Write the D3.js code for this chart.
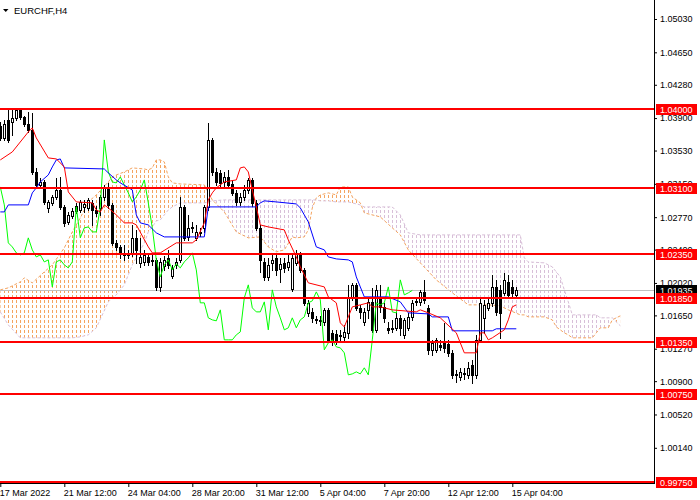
<!DOCTYPE html>
<html>
<head>
<meta charset="utf-8">
<script src="https://cdn.jsdelivr.net/npm/d3@7"></script>
<style>
  body { margin: 0; background: #fff; }
  svg { display: block; font-family: "Liberation Sans", Arial, sans-serif; }
</style>
</head>
<body>
<div id="chart"></div>
<script>
// EURCHF H4 candles, one entry per bar (bar 0 = 17 Mar 2022)
const opens = [1.03811,1.03674,1.03879,1.03856,1.03902,1.03993,1.03913,1.03833,1.03765,1.03286,
  1.03138,1.03172,1.02876,1.02933,1.03001,1.03081,1.02887,1.02716,1.02785,1.02842,
  1.02853,1.02887,1.02876,1.02933,1.02853,1.02876,1.03001,1.03115,1.02910,1.02477,
  1.02431,1.02363,1.02340,1.02351,1.02534,1.02249,1.02260,1.02317,1.02272,1.02283,
  1.01975,1.02215,1.02306,1.02101,1.02226,1.02283,1.02887,1.02545,1.02648,1.02534,
  1.02591,1.02648,1.02887,1.03651,1.03286,1.03275,1.03172,1.03229,1.03149,1.03047,
  1.02944,1.03001,1.03081,1.03195,1.02933,1.02648,1.02260,1.02089,1.02249,1.02306,
  1.02181,1.02249,1.02203,1.01953,1.02249,1.02340,1.02169,1.01679,1.01690,1.01611,
  1.01599,1.01576,1.01713,1.01451,1.01439,1.01417,1.01405,1.01451,1.01850,1.01998,
  1.01736,1.01576,1.01713,1.01804,1.01485,1.01861,1.01747,1.01508,1.01497,1.01508,
  1.01622,1.01428,1.01508,1.01633,1.01804,1.01804,1.01918,1.01736,1.01257,1.01257,
  1.01314,1.01337,1.01325,1.01223,1.00972,1.00949,1.00995,1.00972,1.01086,1.00972,
  1.01371,1.01622,1.01736,1.01793,1.01975,1.01941,1.01907,1.02032,1.01975,1.01884];
const highs = [1.03856,1.03879,1.03993,1.03993,1.04016,1.04016,1.03925,1.03970,1.03959,1.03332,
  1.03218,1.03195,1.02967,1.03024,1.03218,1.03229,1.02910,1.02830,1.02876,1.02933,
  1.02967,1.02967,1.02990,1.02967,1.02899,1.03024,1.03138,1.03161,1.02933,1.02511,
  1.02454,1.02454,1.02397,1.02682,1.02625,1.02534,1.02397,1.02363,1.02340,1.02306,
  1.02306,1.02329,1.02397,1.02226,1.02306,1.03001,1.02910,1.02796,1.02716,1.02682,
  1.02648,1.02910,1.03845,1.03674,1.03332,1.03309,1.03286,1.03309,1.03195,1.03081,
  1.03047,1.03138,1.03218,1.03218,1.02967,1.02682,1.02306,1.02306,1.02340,1.02363,
  1.02306,1.02306,1.02340,1.02340,1.02397,1.02374,1.02192,1.01827,1.01736,1.01645,
  1.01645,1.01736,1.01736,1.01485,1.01485,1.01485,1.01542,1.01998,1.02021,1.02021,
  1.01770,1.01736,1.01850,1.01964,1.01998,1.01998,1.01793,1.01576,1.01599,1.01690,
  1.01656,1.01622,1.01679,1.01827,1.01850,1.01941,1.02055,1.01770,1.01371,1.01394,
  1.01371,1.01565,1.01371,1.01257,1.01029,1.01052,1.01052,1.01120,1.01143,1.01428,
  1.01850,1.01827,1.01850,1.02112,1.02055,1.01998,1.02135,1.02112,1.02055,1.01975];
const lows = [1.03651,1.03651,1.03628,1.03708,1.03879,1.03890,1.03811,1.03742,1.03263,1.03104,
  1.03104,1.02921,1.02830,1.02910,1.02979,1.02865,1.02671,1.02693,1.02762,1.02819,
  1.02830,1.02830,1.02853,1.02682,1.02785,1.02796,1.02967,1.02876,1.02454,1.02397,
  1.02306,1.02283,1.02306,1.02329,1.02249,1.02203,1.02226,1.02226,1.02226,1.01941,
  1.01930,1.02169,1.02192,1.02078,1.02192,1.02260,1.02511,1.02511,1.02602,1.02511,
  1.02557,1.02602,1.02853,1.03252,1.03138,1.03127,1.03127,1.03104,1.03024,1.02910,
  1.02910,1.02967,1.03047,1.02899,1.02625,1.02146,1.02055,1.02055,1.02169,1.02112,
  1.02032,1.02146,1.02169,1.01930,1.02226,1.02146,1.01770,1.01645,1.01576,1.01565,
  1.01542,1.01542,1.01348,1.01314,1.01325,1.01371,1.01371,1.01394,1.01827,1.01713,
  1.01622,1.01542,1.01622,1.01462,1.01462,1.01690,1.01576,1.01451,1.01462,1.01485,
  1.01428,1.01394,1.01485,1.01599,1.01770,1.01770,1.01793,1.01211,1.01200,1.01234,
  1.01257,1.01234,1.01189,1.00938,1.00892,1.00915,1.00927,1.00938,1.00881,1.00938,
  1.01348,1.01451,1.01713,1.01759,1.01656,1.01394,1.01884,1.01850,1.01861,1.01861];
const closes = [1.03674,1.03833,1.03651,1.03902,1.03993,1.03913,1.03833,1.03765,1.03286,1.03138,
  1.03172,1.02944,1.02944,1.03001,1.03081,1.02887,1.02705,1.02796,1.02842,1.02899,
  1.02944,1.02921,1.02967,1.02853,1.02819,1.03001,1.03115,1.02910,1.02477,1.02431,
  1.02363,1.02340,1.02363,1.02534,1.02397,1.02317,1.02340,1.02260,1.02283,1.01975,
  1.02260,1.02283,1.02226,1.02192,1.02260,1.02887,1.02534,1.02648,1.02659,1.02602,
  1.02602,1.02887,1.03651,1.03286,1.03172,1.03161,1.03229,1.03138,1.03047,1.02944,
  1.03001,1.03081,1.03195,1.02933,1.02648,1.02283,1.02089,1.02226,1.02283,1.02169,
  1.02237,1.02192,1.02260,1.02306,1.02363,1.02169,1.01793,1.01793,1.01622,1.01599,
  1.01588,1.01713,1.01371,1.01371,1.01371,1.01428,1.01462,1.01850,1.01998,1.01736,
  1.01690,1.01690,1.01804,1.01485,1.01941,1.01747,1.01622,1.01485,1.01508,1.01622,
  1.01508,1.01599,1.01633,1.01793,1.01816,1.01918,1.01827,1.01257,1.01337,1.01371,
  1.01291,1.01280,1.01223,1.00972,1.00983,1.01006,1.00983,1.01052,1.00972,1.01371,
  1.01793,1.01770,1.01793,1.01975,1.01690,1.01679,1.02055,1.01884,1.01907,1.01935];

// Ichimoku lines as [bar, price] vertices
const tenkan = [[0,1.03423],[3,1.03514],[7,1.03742],[8,1.03788],[9,1.03674],[12,1.03446],[14,1.03434],
  [16,1.03343],[17,1.03058],[19,1.02944],[23,1.02933],[24,1.02853],[25,1.02830],[26,1.02910],[27,1.02876],
  [29,1.02796],[31,1.02705],[33,1.02705],[34,1.02682],[37,1.02431],[38,1.02363],[40,1.02363],[44,1.02477],
  [48,1.02477],[49,1.02511],[51,1.02705],[52,1.02967],[53,1.03047],[54,1.03104],[56,1.03172],[59,1.03195],
  [60,1.03332],[61,1.03343],[62,1.03286],[63,1.03081],[64,1.02887],[65,1.02682],[67,1.02659],[71,1.02625],
  [72,1.02511],[74,1.02317],[75,1.02203],[77,1.02021],[81,1.01975],[82,1.01861],[84,1.01793],[85,1.01565],
  [86,1.01519],[87,1.01633],[88,1.01747],[90,1.01770],[92,1.01793],[93,1.01747],[95,1.01747],[98,1.01713],
  [104,1.01690],[105,1.01713],[107,1.01679],[110,1.01622],[114,1.01451],[115,1.01337],[116,1.01223],
  [119,1.01223],[120,1.01451],[121,1.01451],[122,1.01371],[123,1.01394],[126,1.01485],[127,1.01599],
  [128,1.01747],[129,1.01770]];
const kijun = [[0,1.02830],[1,1.02830],[2,1.02910],[7,1.02910],[8,1.03047],[9,1.03104],[10,1.03172],
  [12,1.03252],[13,1.03343],[14,1.03423],[15,1.03434],[16,1.03332],[26,1.03320],[27,1.03275],[29,1.03195],
  [30,1.03161],[33,1.03081],[34,1.02796],[35,1.02705],[37,1.02682],[39,1.02591],[41,1.02545],[51,1.02545],
  [52,1.02887],[64,1.02887],[65,1.02933],[66,1.02956],[69,1.02944],[74,1.02921],[75,1.02876],[76,1.02796],
  [77,1.02716],[79,1.02431],[81,1.02397],[82,1.02317],[84,1.02294],[87,1.02283],[88,1.02260],[89,1.02089],
  [90,1.01975],[91,1.01861],[97,1.01861],[100,1.01804],[102,1.01679],[107,1.01667],[108,1.01633],
  [112,1.01633],[113,1.01474],[123,1.01474],[124,1.01497],[129,1.01497]];

// Kumo (cloud): Senkou span A / B, already shifted 26 bars ahead
const spanBars = [0,2,5,6,8,11,13,16,18,20,22,24,27,28,29,31,33,36,37,38,39,40,41,42,43,45,51,53,56,59,
  62,65,67,69,71,73,74,76,77,78,79,80,82,84,85,87,88,90,91,95,98,100,102,105,109,113,117,122,125,127,
  130,131,132,136,138,139,140,141,142,143,148,149,150,152,153,155];
const spanA = [1.01941,1.01964,1.02032,1.02078,1.02021,1.02146,1.02226,1.02420,1.02602,1.02762,
  1.02944,1.03024,1.03172,1.03229,1.03252,1.03286,1.03332,1.03320,1.03309,1.03332,
  1.03423,1.03423,1.03400,1.03229,1.03161,1.03149,1.03138,1.02967,1.02830,1.02602,
  1.02534,1.02545,1.02431,1.02374,1.02397,1.02545,1.02534,1.02545,1.02625,1.02876,
  1.02990,1.03024,1.03047,1.03024,1.03115,1.03115,1.03001,1.02933,1.02819,1.02773,
  1.02648,1.02568,1.02397,1.02249,1.02055,1.01907,1.01770,1.01770,1.01759,1.01713,
  1.01656,1.01656,1.01633,1.01633,1.01599,1.01519,1.01485,1.01451,1.01428,1.01394,
  1.01394,1.01451,1.01508,1.01508,1.01599,1.01645];
const spanB = [1.01690,1.01542,1.01394,1.01394,1.01394,1.01394,1.01394,1.01394,1.01394,1.01405,
  1.01428,1.01508,1.01804,1.01850,1.01884,1.01998,1.02226,1.02477,1.02602,1.02659,
  1.02728,1.02739,1.02796,1.02853,1.02887,1.02933,1.02933,1.02956,1.02967,1.02967,
  1.02967,1.02967,1.02967,1.02967,1.02967,1.02967,1.02967,1.02967,1.02967,1.02967,
  1.02967,1.02956,1.02956,1.02944,1.02944,1.02944,1.02933,1.02910,1.02887,1.02887,
  1.02887,1.02796,1.02591,1.02568,1.02568,1.02568,1.02568,1.02568,1.02568,1.02568,
  1.02568,1.02306,1.02260,1.02249,1.02203,1.02146,1.02089,1.01941,1.01804,1.01656,
  1.01656,1.01656,1.01622,1.01622,1.01622,1.01531];

const levels = [1.04000, 1.03100, 1.02350, 1.01850, 1.01350, 1.00750, 0.99750];
const bid = 1.01935;
const priceTicks = [1.05030,1.04650,1.04280,1.03900,1.03530,1.03150,1.02770,1.02400,
  1.02020,1.01650,1.01270,1.00900,1.00520,1.00140];
const timeTickBars = [0,16,32,48,64,80,96,112,128];
const timeLabels = ["17 Mar 2022","21 Mar 12:00","24 Mar 04:00","28 Mar 20:00","31 Mar 12:00",
  "5 Apr 04:00","7 Apr 20:00","12 Apr 12:00","15 Apr 04:00"];

const W = 700, H = 500, plotW = 654, plotH = 483;
const fmt = d3.format(".5f");
const px = v => Math.round(v) + 0.5;

const svg = d3.select("#chart").append("svg").attr("width", W).attr("height", H);
svg.append("rect").attr("width", W).attr("height", H).attr("fill", "#fff");

const x = d3.scaleLinear().domain([0, 160]).range([0.3, 640.3]);
const y = d3.scaleLinear().domain([0.9975, 1.0503]).range([482, 19]);

const defs = svg.append("defs");
defs.append("clipPath").attr("id", "plot")
  .append("rect").attr("width", plotW).attr("height", plotH);

// vertical dotted hatching used for the cloud, one column per bar
[["hatchA", "#F4A460"], ["hatchB", "#D8BFD8"]].forEach(([id, col]) => {
  const p = defs.append("pattern").attr("id", id)
    .attr("patternUnits", "userSpaceOnUse").attr("width", 4).attr("height", 5);
  p.append("rect").attr("x", 0).attr("y", 0).attr("width", 1).attr("height", 3).attr("fill", col);
});

const cloud = spanBars.map((b, k) => ({ b, a: spanA[k], s: spanB[k] }));
defs.append("clipPath").attr("id", "belowA").append("path")
  .attr("d", d3.area().x(d => x(d.b)).y0(d => y(d.a)).y1(plotH)(cloud));
defs.append("clipPath").attr("id", "aboveA").append("path")
  .attr("d", d3.area().x(d => x(d.b)).y0(0).y1(d => y(d.a))(cloud));

const g = svg.append("g").attr("clip-path", "url(#plot)");

const cloudArea = d3.area().x(d => x(d.b)).y0(d => y(d.a)).y1(d => y(d.s));
g.append("path").attr("d", cloudArea(cloud)).attr("fill", "url(#hatchA)").attr("clip-path", "url(#belowA)");
g.append("path").attr("d", cloudArea(cloud)).attr("fill", "url(#hatchB)").attr("clip-path", "url(#aboveA)");

g.append("path").attr("d", d3.line().x(d => x(d.b)).y(d => y(d.a))(cloud))
  .attr("fill", "none").attr("stroke", "#F4A460").attr("stroke-dasharray", "3,2");
g.append("path").attr("d", d3.line().x(d => x(d.b)).y(d => y(d.s))(cloud))
  .attr("fill", "none").attr("stroke", "#D8BFD8").attr("stroke-dasharray", "3,2");

// bid line
g.append("line").attr("x1", 0).attr("x2", plotW)
  .attr("y1", px(y(bid))).attr("y2", px(y(bid)))
  .attr("stroke", "#C0C0C0").attr("shape-rendering", "crispEdges");

// candles
const candles = g.append("g").attr("shape-rendering", "crispEdges");
closes.forEach((c, i) => {
  const o = opens[i], cx = Math.round(x(i));
  candles.append("line")
    .attr("x1", cx + 0.5).attr("x2", cx + 0.5)
    .attr("y1", Math.round(y(highs[i]))).attr("y2", Math.round(y(lows[i])) + 1)
    .attr("stroke", "#000");
  const top = Math.round(y(Math.max(o, c))), bot = Math.round(y(Math.min(o, c)));
  if (c >= o) {
    candles.append("rect").attr("x", cx - 0.5).attr("y", top + 0.5)
      .attr("width", 2).attr("height", Math.max(bot - top, 0))
      .attr("fill", "#fff").attr("stroke", "#000");
  } else {
    candles.append("rect").attr("x", cx - 1).attr("y", top)
      .attr("width", 3).attr("height", Math.max(bot - top, 1) + 1)
      .attr("fill", "#000");
  }
});

const lineGen = d3.line().x(d => x(d[0])).y(d => y(d[1]));
const chikou = closes.slice(26).map((c, k) => [k, c]);
g.append("path").attr("d", lineGen(chikou)).attr("fill", "none").attr("stroke", "#00FF00");
g.append("path").attr("d", lineGen(kijun)).attr("fill", "none").attr("stroke", "#0000FF");
g.append("path").attr("d", lineGen(tenkan)).attr("fill", "none").attr("stroke", "#FF0000");

// horizontal support / resistance levels
g.selectAll(".lvl").data(levels).join("line").attr("class", "lvl")
  .attr("x1", 0).attr("x2", plotW)
  .attr("y1", d => Math.round(y(d))).attr("y2", d => Math.round(y(d)))
  .attr("stroke", "#FF0000").attr("stroke-width", 2).attr("shape-rendering", "crispEdges");

// frame
svg.append("line").attr("x1", plotW + 0.5).attr("x2", plotW + 0.5).attr("y1", 0).attr("y2", plotH + 1)
  .attr("stroke", "#000").attr("shape-rendering", "crispEdges");
svg.append("line").attr("x1", 0).attr("x2", plotW + 1).attr("y1", plotH + 0.5).attr("y2", plotH + 0.5)
  .attr("stroke", "#000").attr("shape-rendering", "crispEdges");

// price axis
const yAxis = svg.append("g").attr("transform", `translate(${plotW},0)`)
  .call(d3.axisRight(y).tickValues(priceTicks).tickFormat(fmt).tickSize(3).tickPadding(3).tickSizeOuter(0));
yAxis.select(".domain").remove();
yAxis.selectAll("text").attr("font-size", 9).attr("font-family", "Liberation Sans, Arial, sans-serif").attr("fill", "#000");

// time axis
const xAxis = svg.append("g").attr("transform", `translate(0,${plotH})`)
  .call(d3.axisBottom(x).tickValues(timeTickBars).tickFormat((d, k) => timeLabels[k]).tickSize(4).tickPadding(3).tickSizeOuter(0));
xAxis.select(".domain").remove();
xAxis.selectAll("text").attr("text-anchor", "start").attr("x", -1)
  .attr("font-size", 9).attr("font-family", "Liberation Sans, Arial, sans-serif").attr("fill", "#000");

// price tags
function tag(v, col) {
  const cy = y(v);
  svg.append("rect").attr("x", 656).attr("y", Math.round(cy) - 5).attr("width", 41).attr("height", 11).attr("fill", col);
  svg.append("text").attr("x", 660).attr("y", Math.round(cy) + 3.5)
    .attr("font-size", 9).attr("fill", "#fff").text(fmt(v));
}
tag(bid, "#000");
levels.forEach(v => tag(v, "#FF0000"));

// title
svg.append("path").attr("d", "M3,9L8.5,9L5.75,12Z").attr("fill", "#000");
svg.append("text").attr("x", 14).attr("y", 14).attr("font-size", 9.5).attr("fill", "#000").text("EURCHF,H4");
</script>
</body>
</html>
